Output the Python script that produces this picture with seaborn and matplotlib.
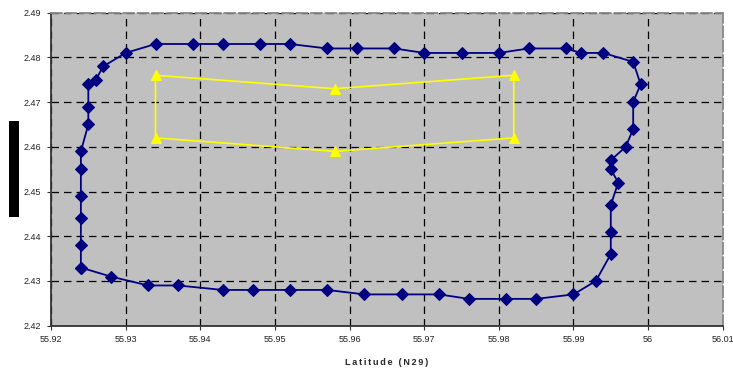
import matplotlib
matplotlib.use("Agg")
import matplotlib.pyplot as plt
from matplotlib.patches import Rectangle
import seaborn as sns
import pandas as pd

# navy track (closed loop, drawn in order)
track_x = [55.924, 55.924, 55.924, 55.924, 55.924, 55.924, 55.925, 55.925, 55.925, 55.926,
           55.927, 55.930, 55.934, 55.939, 55.943, 55.948, 55.952, 55.957, 55.961, 55.966,
           55.970, 55.975, 55.980, 55.984, 55.989, 55.991, 55.994, 55.998, 55.999, 55.998,
           55.998, 55.997, 55.995, 55.995, 55.996, 55.995, 55.995, 55.995, 55.993, 55.990,
           55.985, 55.981, 55.976, 55.972, 55.967, 55.962, 55.957, 55.952, 55.947, 55.943,
           55.937, 55.933, 55.928, 55.924]
track_y = [2.433, 2.438, 2.444, 2.449, 2.455, 2.459, 2.465, 2.469, 2.474, 2.475,
           2.478, 2.481, 2.483, 2.483, 2.483, 2.483, 2.483, 2.482, 2.482, 2.482,
           2.481, 2.481, 2.481, 2.482, 2.482, 2.481, 2.481, 2.479, 2.474, 2.470,
           2.464, 2.460, 2.457, 2.455, 2.452, 2.447, 2.441, 2.436, 2.430, 2.427,
           2.426, 2.426, 2.426, 2.427, 2.427, 2.427, 2.428, 2.428, 2.428, 2.428,
           2.429, 2.429, 2.431, 2.433]

# yellow box
box_x = [55.934, 55.958, 55.982, 55.982, 55.958, 55.934, 55.934]
box_y = [2.476, 2.473, 2.476, 2.462, 2.459, 2.462, 2.476]

x_ticks = [55.92, 55.93, 55.94, 55.95, 55.96, 55.97, 55.98, 55.99, 56.0, 56.01]
x_labels = ['55.92', '55.93', '55.94', '55.95', '55.96', '55.97', '55.98', '55.99', '56', '56.01']
y_ticks = [2.42, 2.43, 2.44, 2.45, 2.46, 2.47, 2.48, 2.49]

track = pd.DataFrame({'x': track_x, 'y': track_y})
box = pd.DataFrame({'x': box_x, 'y': box_y})

sns.set_style('ticks')
plt.rcParams['font.family'] = ['Liberation Sans', 'DejaVu Sans']

fig = plt.figure(figsize=(7.33, 3.70), dpi=100)
ax = fig.add_axes([0.0696, 0.1197, 0.9164, 0.846])
ax.set_facecolor('#C0C0C0')

sns.lineplot(data=track, x='x', y='y', sort=False, estimator=None, ax=ax,
             color='#000080', linewidth=1.3, marker='D', markersize=6,
             markeredgecolor='#000080', zorder=3)
sns.lineplot(data=box, x='x', y='y', sort=False, estimator=None, ax=ax,
             color='#FFFF00', linewidth=1.2, marker='^', markersize=7.5,
             markeredgecolor='#FFFF00', zorder=3)

ax.set_xlim(55.92, 56.01)
ax.set_ylim(2.42, 2.49)
ax.set_xticks(x_ticks)
ax.set_xticklabels(x_labels)
ax.set_yticks(y_ticks)
ax.set_yticklabels([f'{v:.2f}' for v in y_ticks])
ax.tick_params(labelsize=6.5, length=3, width=0.8, color='#333333', pad=4, labelcolor='#222222')
ax.grid(True, color='black', linestyle=(0, (6, 4)), linewidth=0.9)
ax.set_axisbelow(True)

for side in ['left', 'bottom']:
    ax.spines[side].set_color('#333333')
    ax.spines[side].set_linewidth(1.3)
for side in ['top', 'right']:
    ax.spines[side].set_visible(True)
    ax.spines[side].set_color('#888888')
    ax.spines[side].set_linewidth(1.3)
    ax.spines[side].set_linestyle((0, (6, 2)))

ax.set_xlabel('\u2009'.join('Latitude (N29)'), fontsize=6.5, fontweight='bold', labelpad=10)
ax.set_ylabel('')

# redacted y label block
fig.patches.append(Rectangle((9 / 733, 1 - 216.7 / 370), 10 / 733, 96 / 370,
                             transform=fig.transFigure, facecolor='black', edgecolor='none'))

fig.savefig('out.png', dpi=100)
